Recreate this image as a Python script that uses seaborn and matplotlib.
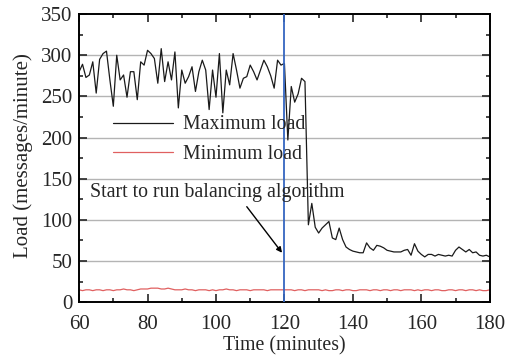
import numpy as np
import pandas as pd
import matplotlib
matplotlib.use("Agg")
import matplotlib.pyplot as plt
from matplotlib.ticker import MultipleLocator
import seaborn as sns

minutes = list(range(60, 181))
max_load = [
    280, 289, 273, 276, 292, 254, 295, 302, 305, 270,
    238, 300, 270, 276, 249, 280, 280, 246, 292, 288,
    306, 302, 296, 266, 308, 268, 292, 270, 304, 236,
    282, 266, 274, 286, 256, 280, 294, 282, 234, 282,
    249, 302, 230, 282, 264, 302, 282, 260, 272, 274,
    288, 280, 270, 282, 294, 286, 275, 260, 294, 288,
    290, 197, 262, 243, 253, 272, 268, 94, 120, 91,
    84, 90, 94, 98, 78, 76, 90, 76, 67, 64,
    62, 61, 60, 60, 72, 66, 63, 69, 68, 66,
    63, 62, 61, 61, 61, 63, 64, 57, 71, 62,
    58, 55, 58, 58, 56, 58, 57, 56, 57, 56,
    63, 67, 64, 61, 64, 60, 61, 57, 56, 57,
    55,
]
min_load = [
    15, 14, 15, 15, 14, 15, 15, 14, 15, 15,
    14, 15, 15, 16, 15, 15, 14, 15, 16, 16,
    16, 17, 17, 17, 16, 16, 17, 16, 15, 15,
    15, 16, 15, 15, 14, 15, 15, 15, 14, 15,
    14, 15, 15, 16, 15, 15, 14, 15, 15, 15,
    14, 15, 15, 15, 15, 14, 15, 15, 15, 15,
    15, 15, 15, 14, 15, 15, 14, 15, 15, 15,
    15, 14, 15, 14, 14, 15, 15, 14, 15, 15,
    14, 14, 15, 15, 15, 14, 15, 15, 14, 15,
    15, 14, 15, 15, 14, 15, 15, 15, 14, 15,
    14, 15, 15, 14, 15, 15, 14, 14, 15, 15,
    14, 15, 15, 14, 15, 15, 14, 15, 14, 14,
    15,
]
series_labels = ["Maximum load", "Minimum load"]
event_minute = 120
annotation_text = "Start to run balancing algorithm"

df = pd.DataFrame({
    "Time": minutes * 2,
    "Load": max_load + min_load,
    "Series": [series_labels[0]] * len(minutes) + [series_labels[1]] * len(minutes),
})

sns.set_style("ticks")
plt.rcParams["font.family"] = ["Liberation Serif", "DejaVu Serif"]

fig = plt.figure(figsize=(5.07, 3.61), dpi=100)
ax = fig.add_axes([0.156, 0.163, 0.81, 0.798])

for y in range(50, 350, 50):
    ax.axhline(y, color="#b4b4b4", lw=1.0, zorder=0)

sns.lineplot(data=df, x="Time", y="Load", hue="Series",
             palette={series_labels[0]: "#1a1a1a", series_labels[1]: "#e06060"},
             linewidth=0.9, ax=ax, legend=True)

ax.axvline(event_minute, color="#3566c0", lw=1.3, zorder=3)

ax.text(63.2, 133, annotation_text, fontsize=14.3, ha="left", va="center")
ax.annotate("", xy=(119.3, 60), xytext=(109, 116),
            arrowprops=dict(arrowstyle="-|>", color="black", lw=1.0,
                            shrinkA=0, shrinkB=0, mutation_scale=8))

ax.set_xlim(60, 180)
ax.set_ylim(0, 350)
ax.xaxis.set_major_locator(MultipleLocator(20))
ax.xaxis.set_minor_locator(MultipleLocator(10))
ax.yaxis.set_major_locator(MultipleLocator(50))
ax.yaxis.set_minor_locator(MultipleLocator(25))
ax.tick_params(which="both", direction="in", top=True, right=True,
               width=1.2, labelsize=15)
ax.tick_params(which="major", length=6)
ax.tick_params(which="minor", length=3)
ax.tick_params(axis="x", pad=9)
ax.tick_params(axis="y", pad=5)
for s in ax.spines.values():
    s.set_visible(True)
    s.set_linewidth(1.4)
    s.set_color("black")

ax.set_xlabel("Time (minutes)", fontsize=14.3, labelpad=2)
ax.set_ylabel("Load (messages/minute)", fontsize=15)
ax.yaxis.set_label_coords(-0.112, 0.51)

leg = ax.legend(loc="upper left", bbox_to_anchor=(0.04, 0.71), frameon=False,
                fontsize=14.3, handlelength=3.0, labelspacing=0.55,
                handletextpad=0.5)
for line in leg.get_lines():
    line.set_linewidth(0.9)

fig.savefig("out.png", dpi=100)
